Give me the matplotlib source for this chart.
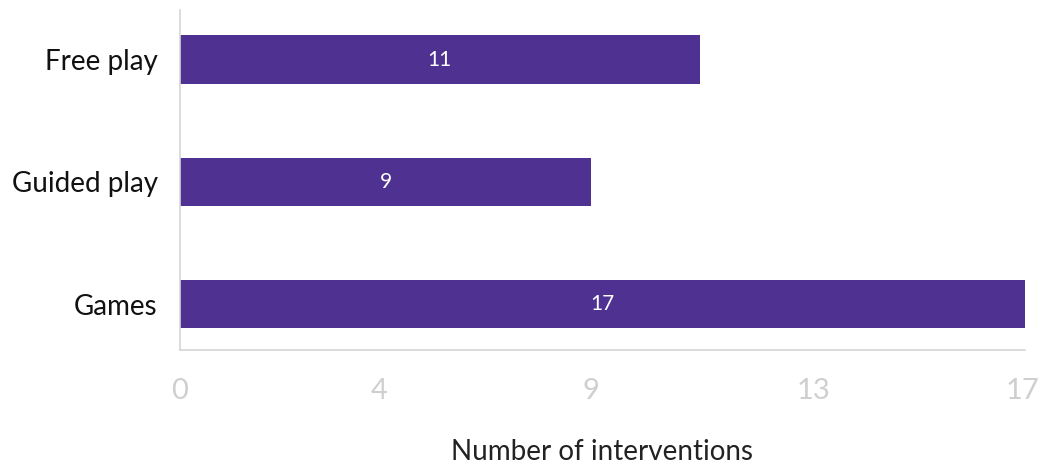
import matplotlib
matplotlib.use('Agg')
import matplotlib.pyplot as plt
import numpy as np

categories = ['Games', 'Guided play', 'Free play']
interventions = [17, 9, 11]

# axis in the original starts a bit above zero, labels are what it printed
x_min = 1.42
x_max = 17
tick_values = [1.42, 5.1, 9, 13.1, 16.95]
tick_labels = ['0', '4', '9', '13', '17']

bar_color = '#4e3190'
grid_color = '#d6d6d6'

plt.rcParams['font.family'] = ['Lato', 'DejaVu Sans']

fig = plt.figure(figsize=(10.43, 4.68), dpi=100)
ax = fig.add_axes([0.1726, 0.252, 0.81, 0.727])

y = np.arange(len(categories))
bars = ax.barh(y, interventions, height=0.4, color=bar_color, left=0)

ax.set_xlim(x_min, x_max)
ax.set_ylim(-0.377, 2.41)

for b, v in zip(bars, interventions):
    xc = (x_min + b.get_width()) / 2
    ax.text(xc, b.get_y() + b.get_height() / 2, str(v), color='white',
            ha='center', va='center', fontsize=15)

ax.set_yticks(y)
ax.set_yticklabels(categories, fontsize=20, color='#111111')
ax.set_xticks(tick_values)
ax.set_xticklabels(tick_labels, fontsize=21, color='#cfcfcf')
ax.tick_params(axis='both', length=0)
ax.tick_params(axis='x', pad=20)
ax.tick_params(axis='y', pad=16)

for side in ['top', 'right']:
    ax.spines[side].set_visible(False)
for side in ['left', 'bottom']:
    ax.spines[side].set_color(grid_color)
    ax.spines[side].set_linewidth(1.2)

ax.set_xlabel('Number of interventions', fontsize=20, color='#222222', labelpad=25)

fig.savefig('out.png', dpi=100)
